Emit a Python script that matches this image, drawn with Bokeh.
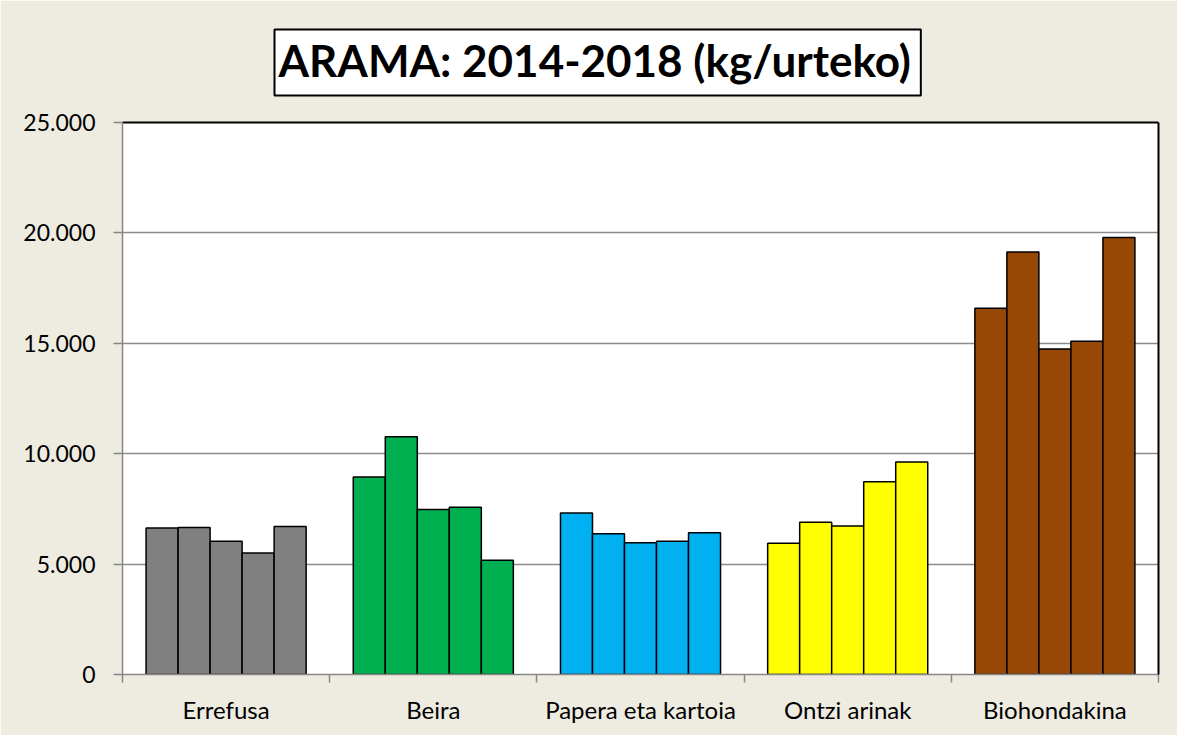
import numpy as np
from bokeh.plotting import figure
from bokeh.models import ColumnDataSource, Range1d, FixedTicker, Title, LinearAxis
from bokeh.embed import file_html
from bokeh.resources import INLINE

# ---- data ----
categories = ["Errefusa", "Beira", "Papera eta kartoia", "Ontzi arinak", "Biohondakina"]
years = ["2014", "2015", "2016", "2017", "2018"]
errefusa = [6630, 6660, 6030, 5500, 6700]
beira = [8950, 10770, 7470, 7580, 5170]
papera = [7310, 6370, 5970, 6040, 6420]
ontzi = [5940, 6890, 6720, 8730, 9620]
bio = [16590, 19140, 14740, 15090, 19790]
colors = ["#808080", "#00B050", "#00B0F0", "#FFFF00", "#974706"]
y_ticks = [0, 5000, 10000, 15000, 20000, 25000]
y_tick_labels = ["0", "5.000", "10.000", "15.000", "20.000", "25.000"]
title_text = "ARAMA: 2014-2018 (kg/urteko)"

series = [errefusa, beira, papera, ontzi, bio]

BG = "#EEECE1"
FONT = "Lato"

W, H = 1177, 735
p = figure(width=W, height=H, output_backend="svg", toolbar_location=None,
           x_range=Range1d(0, 5), y_range=Range1d(0, 25000),
           min_border_left=122, min_border_right=19, min_border_top=121, min_border_bottom=61)
p.border_fill_color = BG
p.background_fill_color = "white"
p.outline_line_color = None

xa = p.below[0]
ya = p.left[0]

# black top/right border of the plot area (axes without ticks or labels)
for side in ("above", "right"):
    ax = LinearAxis(ticker=FixedTicker(ticks=[], minor_ticks=[]), axis_line_color="black",
                    axis_line_width=2, major_tick_line_color=None, minor_tick_line_color=None,
                    major_tick_out=0, major_tick_in=0, minor_tick_out=0, minor_tick_in=0,
                    major_label_standoff=0, major_label_text_font_size="0px")
    p.add_layout(ax, side)

title = Title(text=title_text, align="left", offset=152, standoff=54,
              text_font=FONT, text_font_style="bold", text_font_size="44px",
              text_color="black", background_fill_color="white",
              border_line_color="black", border_line_width=2, padding=(4, 10, 4, 10))
p.add_layout(title, "above")

bar_w = 0.1545
xs, tops, cols = [], [], []
for ci, vals in enumerate(series):
    for yi, v in enumerate(vals):
        xs.append(ci + 0.5 + (yi - 2) * bar_w)
        tops.append(v)
        cols.append(colors[ci])
src = ColumnDataSource(dict(x=xs, top=tops, color=cols))

# grid
p.xgrid.visible = False
p.ygrid.ticker = FixedTicker(ticks=y_ticks)
p.ygrid.grid_line_color = "#8C8C8C"
p.ygrid.grid_line_width = 1.5

p.vbar(x="x", top="top", bottom=0, width=bar_w, source=src,
       fill_color="color", line_color="black", line_width=1.5)

# y axis
ya.ticker = FixedTicker(ticks=y_ticks)
ya.major_label_overrides = {t: l for t, l in zip(y_ticks, y_tick_labels)}
ya.axis_line_color = "#868686"
ya.axis_line_width = 1.5
ya.major_tick_line_color = "#868686"
ya.major_tick_line_width = 1.5
ya.major_tick_out = 9
ya.major_tick_in = 0
ya.minor_tick_line_color = None
ya.major_label_standoff = 18
ya.major_label_text_font = FONT
ya.major_label_text_font_size = "23px"
ya.major_label_text_color = "#000000"

# x axis
centers = [i + 0.5 for i in range(len(categories))]
xa.ticker = FixedTicker(ticks=centers, minor_ticks=list(range(len(categories) + 1)))
xa.major_label_overrides = {c: n for c, n in zip(centers, categories)}
xa.axis_line_color = "#868686"
xa.axis_line_width = 1.5
xa.major_tick_line_color = None
xa.major_tick_out = 0
xa.major_tick_in = 0
xa.minor_tick_line_color = "#868686"
xa.minor_tick_line_width = 1.5
xa.minor_tick_out = 8
xa.minor_tick_in = 0
xa.major_label_standoff = 12
xa.major_label_text_font = FONT
xa.major_label_text_font_size = "24px"
xa.major_label_text_color = "#000000"

open("out.html", "w").write(file_html(p, INLINE))
